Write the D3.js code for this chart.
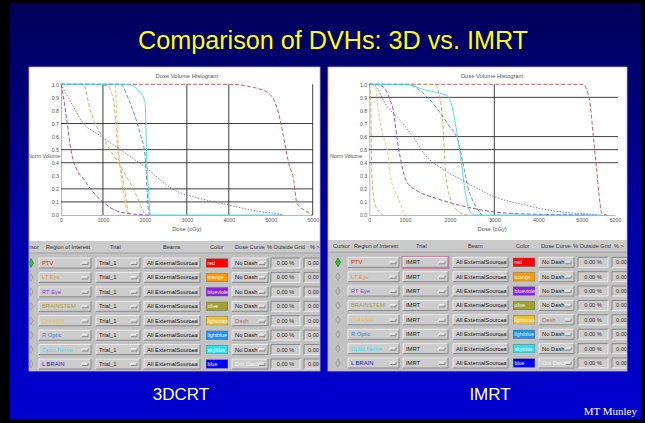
<!DOCTYPE html>
<html>
<head>
<meta charset="utf-8">
<script src="https://cdn.jsdelivr.net/npm/d3@7"></script>
<style>
  body { margin: 0; background: #000; }
  svg { display: block; }
</style>
</head>
<body>
<svg id="slide" width="645" height="423"></svg>
<script>
var svg = d3.select("#slide");
var width = +svg.attr("width");
var height = +svg.attr("height");

// axis ticks
var doseTicks = [0, 1000, 2000, 3000, 4000, 5000, 6000];
var volTicks = [0, 0.1, 0.2, 0.3, 0.4, 0.5, 0.6, 0.7, 0.8, 0.9, 1.0];

// reference lines drawn on each plot
var doseLines3d = [1000, 3000, 4000, 6000];
var volLines3d = [0.7, 0.5, 0.4, 0.2, 0.1];
var doseLinesImrt = [3000];
var volLinesImrt = [0.9, 0.6, 0.5, 0.4];

// table contents
var roiNames = ["PTV", "LT Eye", "RT Eye", "BRAINSTEM", "CHIASM", "R Optic", "Optic Nerve", "L BRAIN"];
var colorNames = ["red", "orange", "blueviolet", "olive", "lightorange", "lightblue", "skyblue", "blue"];
var doseCurve3d = ["No Dash", "No Dash", "No Dash", "No Dash", "Dash", "No Dash", "No Dash", "Dot Dash"];
var doseCurveImrt = ["No Dash", "No Dash", "No Dash", "No Dash", "Dash", "No Dash", "No Dash", "Dot Dash"];
var outsideGrid3d = ["0.00 %", "0.00 %", "0.00 %", "0.00 %", "0.00 %", "0.00 %", "0.00 %", "0.00 %"];
var outsideGridImrt = ["0.00 %", "0.00 %", "0.00 %", "0.00 %", "0.00 %", "0.00 %", "0.00 %", "0.00 %"];
var lastCol = ["0.00", "0.00", "0.00", "0.00", "0.00", "0.00", "0.00", "0.00"];
var headers3d = ["Cursor", "Region of Interest", "Trial", "Beams", "Color", "Dose Curve", "% Outside Grid", "% > Vol"];
var headersImrt = ["Cursor", "Region of Interest", "Trial", "Beam", "Color", "Dose Curve", "% Outside Grid", "% >"];
var trial3d = "Trial_1";
var trialImrt = "IMRT";
var beams3d = "All ExternalSources";
var beamsImrt = "All ExternalSources";

// 3DCRT DVHs [dose cGy, fractional volume]
var ptv3d = [[0, 1], [4000, 1], [4670, 0.97], [4990, 0.92], [5185, 0.78], [5305, 0.6], [5425, 0.4], [5545, 0.27], [5625, 0.09], [5865, 0.025], [5980, 0]];
var ltEye3d = [[0, 1], [650, 1], [1100, 0.99], [1250, 0.88], [1370, 0.45], [1490, 0.25], [1570, 0.08], [1610, 0.01], [1650, 0]];
var rtEye3d = [[0, 1], [60, 0.9], [135, 0.73], [253, 0.47], [373, 0.35], [530, 0.28], [750, 0.18], [1000, 0.1], [1330, 0.03], [1650, 0.01], [2100, 0]];
var brainstem3d = [[0, 1], [530, 1], [700, 0.8], [1090, 0.54], [1367, 0.4], [1800, 0.15], [2000, 0.01], [2050, 0]];
var chiasm3d = [[0, 1], [1290, 1], [1330, 0.75], [1410, 0.37], [1500, 0.15], [1600, 0.01], [1650, 0]];
var rOptic3d = [[0, 1], [1408, 1], [1647, 0.855], [1885, 0.625], [2005, 0.45], [2084, 0.04], [2110, 0]];
var opticNerve3d = [[0, 1], [1570, 1], [1885, 0.94], [2005, 0.86], [2045, 0.4], [2085, 0.2], [2124, 0.01], [2140, 0], [5300, 0]];
var lBrain3d = [[0, 1], [294, 0.83], [532, 0.7], [850, 0.625], [1327, 0.52], [1725, 0.43], [2040, 0.36], [2360, 0.27], [2840, 0.17], [3150, 0.14], [3950, 0.08], [4750, 0.025], [5150, 0.01], [5300, 0]];

// IMRT DVHs
var ptvImrt = [[0, 1], [5048, 1], [5150, 0.957], [5250, 0.855], [5350, 0.6], [5450, 0.344], [5550, 0.09], [5600, 0.013], [5750, 0]];
var ltEyeImrt = [[0, 1], [37, 0.89], [65, 0.38], [112, 0.15], [206, 0.05], [393, 0]];
var rtEyeImrt = [[0, 1], [160, 1], [392, 0.98], [580, 0.88], [672, 0.8], [768, 0.6], [860, 0.45], [1037, 0.255], [1296, 0.18], [1667, 0.13], [2190, 0.077], [2940, 0.026], [3690, 0.008], [5200, 0]];
var brainstemImrt = [[0, 1], [1667, 1], [1778, 0.89], [1852, 0.64], [1889, 0.38], [1963, 0.18], [2190, 0.026], [2410, 0]];
var chiasmImrt = [[0, 1], [160, 1], [252, 0.8], [392, 0.6], [532, 0.45], [580, 0.31], [812, 0.13], [1000, 0.005], [1030, 0]];
var rOpticImrt = [[0, 1], [1074, 0.995], [1444, 0.92], [1815, 0.765], [1963, 0.69], [2190, 0.56], [2302, 0.38], [2415, 0.2], [2566, 0.077], [2717, 0]];
var opticNerveImrt = [[0, 1], [1000, 1], [1444, 0.957], [1963, 0.906], [2038, 0.84], [2151, 0.64], [2264, 0.38], [2340, 0.18], [2453, 0.026], [2566, 0], [5600, 0]];
var lBrainImrt = [[0, 1], [160, 0.99], [440, 0.855], [1000, 0.68], [1222, 0.575], [1444, 0.46], [1815, 0.357], [2340, 0.255], [3000, 0.14], [3690, 0.077], [4460, 0.026], [5300, 0.005], [5500, 0]];

var curves3d = [ptv3d, ltEye3d, rtEye3d, brainstem3d, chiasm3d, rOptic3d, opticNerve3d, lBrain3d];
var curvesImrt = [ptvImrt, ltEyeImrt, rtEyeImrt, brainstemImrt, chiasmImrt, rOpticImrt, opticNerveImrt, lBrainImrt];

// styles, same order as roiNames
var lineColors = ["#c84848", "#e0a050", "#8a3cd0", "#b8ae58", "#e8c060", "#5880b8", "#40d8e8", "#7070b8"];
var lineDash = ["4,2", "4,2", "4,2", "4,2", "3,2", "4,2", null, "1.5,1.5"];
var roiTextColors = ["#e02020", "#e0a040", "#9040e0", "#a8a040", "#e8c050", "#3080e0", "#40e0f0", "#2020c0"];
var swatchColors = ["#ff0000", "#ff9900", "#8a20e0", "#a0a030", "#f0c030", "#2090f0", "#30e0f0", "#0000ff"];
var doseCurveColors = ["#202020", "#202020", "#202020", "#202020", "#b07070", "#202020", "#202020", "#f0f0f0"];

// slide background
var defs = svg.append("defs");
var grad = defs.append("linearGradient").attr("id", "bg").attr("x1", 0).attr("y1", 0).attr("x2", 0).attr("y2", 1);
grad.append("stop").attr("offset", "0%").attr("stop-color", "#000058");
grad.append("stop").attr("offset", "55%").attr("stop-color", "#0000a8");
grad.append("stop").attr("offset", "100%").attr("stop-color", "#0000d0");

svg.append("rect").attr("width", width).attr("height", height).attr("fill", "#000");
svg.append("rect").attr("x", 10).attr("y", 3).attr("width", 631).attr("height", 416).attr("fill", "url(#bg)");

svg.append("text")
  .attr("x", 138).attr("y", 49)
  .attr("textLength", 390).attr("lengthAdjust", "spacingAndGlyphs")
  .attr("font-family", "Liberation Sans, Arial, sans-serif")
  .attr("font-size", 25)
  .attr("fill", "#ffff00")
  .text("Comparison of DVHs: 3D vs. IMRT");

function bevel(g, x0, y0, x1, y1, raised) {
  var light = raised ? "#f4f4f4" : "#7a7a7a";
  var dark = raised ? "#7a7a7a" : "#f4f4f4";
  g.append("path").attr("d", "M" + x0 + "," + y1 + "V" + y0 + "H" + x1).attr("fill", "none").attr("stroke", light).attr("stroke-width", 0.8);
  g.append("path").attr("d", "M" + x1 + "," + y0 + "V" + y1 + "H" + x0).attr("fill", "none").attr("stroke", dark).attr("stroke-width", 0.8);
}

function dropdown(g, x0, x1, cy, text, color) {
  g.append("rect").attr("x", x0).attr("y", cy - 5).attr("width", x1 - x0).attr("height", 10).attr("fill", "#cdcdcd");
  bevel(g, x0, cy - 5, x1, cy + 5, true);
  g.append("rect").attr("x", x1 - 9).attr("y", cy - 1).attr("width", 6).attr("height", 2).attr("fill", "#d8d8d8");
  bevel(g, x1 - 9, cy - 1, x1 - 3, cy + 1.5, true);
  g.append("text").attr("x", x0 + 3).attr("y", cy + 2)
    .attr("font-size", 5.8).attr("fill", color).text(text);
}

function drawPanel(p) {
  var g = svg.append("g").attr("font-family", "Liberation Sans, Arial, sans-serif");
  var clipId = "clip" + p.id;
  defs.append("clipPath").attr("id", clipId).append("rect")
    .attr("x", p.left).attr("y", p.top).attr("width", p.right - p.left).attr("height", p.bottom - p.top);
  var inner = g.append("g").attr("clip-path", "url(#" + clipId + ")");

  inner.append("rect").attr("x", p.left).attr("y", p.top).attr("width", p.right - p.left).attr("height", p.tableTop - p.top).attr("fill", "#ffffff");
  inner.append("rect").attr("x", p.left).attr("y", p.tableTop).attr("width", p.right - p.left).attr("height", p.bottom - p.tableTop).attr("fill", "#c2c2c2");
  inner.append("rect").attr("x", p.left).attr("y", p.tableTop).attr("width", p.right - p.left).attr("height", 12).attr("fill", "#cbcbcb");
  inner.append("line").attr("x1", p.left).attr("x2", p.right).attr("y1", p.tableTop + 12).attr("y2", p.tableTop + 12).attr("stroke", "#9a9a9a").attr("stroke-width", 0.8);

  var x = p.x, y = p.y;

  // axes
  var xAxis = d3.axisBottom(x).tickValues(doseTicks).tickSize(0).tickPadding(3).tickFormat(d3.format("d"));
  var xg = inner.append("g").attr("transform", "translate(0," + y(0) + ")").call(xAxis);
  var yAxis = d3.axisLeft(y).tickValues(volTicks).tickSize(0).tickPadding(2).tickFormat(d3.format(".1f"));
  var yg = inner.append("g").attr("transform", "translate(" + x(0) + ",0)").call(yAxis);
  [xg, yg].forEach(function (a) {
    a.attr("font-family", null).attr("font-size", null);
    a.select(".domain").attr("stroke", "#9a9a9a").attr("stroke-width", 0.7);
    a.selectAll("text").attr("font-size", 5.3).attr("fill", "#555");
  });

  // reference lines
  inner.selectAll(".vline").data(p.doseLines).enter().append("line")
    .attr("x1", function (d) { return x(d); }).attr("x2", function (d) { return x(d); })
    .attr("y1", y(1)).attr("y2", y(0))
    .attr("stroke", "#2a2a2a").attr("stroke-width", 0.9);
  inner.selectAll(".hline").data(p.volLines).enter().append("line")
    .attr("x1", x(0)).attr("x2", p.hEnd)
    .attr("y1", function (d) { return y(d); }).attr("y2", function (d) { return y(d); })
    .attr("stroke", "#2a2a2a").attr("stroke-width", 0.9);

  // DVH curves
  var line = d3.line()
    .x(function (d) { return x(d[0]); })
    .y(function (d) { return y(d[1]); })
    .curve(d3.curveMonotoneX);
  inner.selectAll(".dvh").data(p.curves).enter().append("path")
    .attr("d", line)
    .attr("fill", "none")
    .attr("stroke", function (d, i) { return lineColors[i]; })
    .attr("stroke-dasharray", function (d, i) { return lineDash[i]; })
    .attr("stroke-width", 0.9);

  // plot texts
  var mid = (x(0) + x(6000)) / 2;
  inner.append("text").attr("x", mid).attr("y", 78).attr("text-anchor", "middle")
    .attr("font-size", 5.8).attr("fill", "#555").text("Dose Volume Histogram");
  inner.append("text").attr("x", mid).attr("y", 231).attr("text-anchor", "middle")
    .attr("font-size", 5.8).attr("fill", "#555").text("Dose (cGy)");
  inner.append("text").attr("x", p.yLabelX).attr("y", 158)
    .attr("font-size", 5.3).attr("fill", "#555").text("Norm Volume");

  // table header
  inner.selectAll(".hdr").data(p.headers).enter().append("text")
    .attr("x", function (d, i) { return p.headerX[i]; })
    .attr("y", p.tableTop + 8)
    .attr("font-size", 5.6).attr("fill", "#333")
    .text(function (d) { return d; });

  var rowY = d3.scalePoint().domain(roiNames).range(p.rowRange);
  var c = p.cols;
  roiNames.forEach(function (name, i) {
    var cy = rowY(name);
    var row = inner.append("g");
    row.append("path")
      .attr("d", d3.symbol().type(d3.symbolDiamond).size(i === 0 ? 22 : 16))
      .attr("transform", "translate(" + c.cursor + "," + cy + ")")
      .attr("fill", i === 0 ? "#30c030" : "#bcbcbc")
      .attr("stroke", i === 0 ? "#107010" : "#8a8a8a").attr("stroke-width", 0.6);
    dropdown(row, c.roi[0], c.roi[1], cy, name, roiTextColors[i]);
    dropdown(row, c.trial[0], c.trial[1], cy, p.trial, "#202020");
    if (i === 0 && p.id === "imrt") {
      row.append("rect").attr("x", c.trial[0] - 1).attr("y", cy - 6).attr("width", c.trial[1] - c.trial[0] + 2).attr("height", 12)
        .attr("fill", "none").attr("stroke", "#c07090").attr("stroke-width", 0.8);
    }
    dropdown(row, c.beams[0], c.beams[1], cy, p.beams, "#202020");
    var sw = row.append("svg").attr("x", c.swatch[0]).attr("y", cy - 4.5)
      .attr("width", c.swatch[1] - c.swatch[0]).attr("height", 9);
    sw.append("rect").attr("width", c.swatch[1] - c.swatch[0]).attr("height", 9)
      .attr("fill", swatchColors[i]).attr("stroke", "#707070").attr("stroke-width", 0.8);
    sw.append("text").attr("x", 1.5).attr("y", 6.5)
      .attr("font-size", 5.2).attr("fill", "#f4f4f4").text(colorNames[i]);
    dropdown(row, c.dose[0], c.dose[1], cy, p.doseCurve[i], doseCurveColors[i]);
    row.append("rect").attr("x", c.pct[0]).attr("y", cy - 5).attr("width", c.pct[1] - c.pct[0]).attr("height", 10).attr("fill", "#cdcdcd");
    bevel(row, c.pct[0], cy - 5, c.pct[1], cy + 5, false);
    row.append("text").attr("x", (c.pct[0] + c.pct[1]) / 2).attr("y", cy + 2).attr("text-anchor", "middle")
      .attr("font-size", 5.6).attr("fill", "#303030").text(p.outside[i]);
    row.append("rect").attr("x", c.last[0]).attr("y", cy - 5).attr("width", c.last[1] - c.last[0]).attr("height", 10).attr("fill", "#cdcdcd");
    bevel(row, c.last[0], cy - 5, c.last[1], cy + 5, false);
    row.append("text").attr("x", c.last[0] + 4).attr("y", cy + 2)
      .attr("font-size", 5.6).attr("fill", "#303030").text(lastCol[i]);
  });

  g.append("rect").attr("x", p.left).attr("y", p.top).attr("width", p.right - p.left).attr("height", p.bottom - p.top)
    .attr("fill", "none").attr("stroke", "#c8a8d0").attr("stroke-width", 0.8);
}

var volScale = d3.scaleLinear().domain([0, 1]).range([215, 84.3]);

drawPanel({
  id: "3d", left: 29, right: 320, top: 67, tableTop: 241, bottom: 371,
  x: d3.scaleLinear().domain([0, 6000]).range([61, 312.7]),
  y: volScale, hEnd: 312.7, yLabelX: 28,
  doseLines: doseLines3d, volLines: volLines3d, curves: curves3d,
  headers: headers3d, headerX: [22, 46, 110, 163, 210, 235, 267, 310],
  rowRange: [263, 364],
  cols: { cursor: 31, roi: [39, 91], trial: [96, 140], beams: [144, 200], swatch: [206, 228], dose: [232, 268], pct: [271, 300], last: [304, 330] },
  trial: trial3d, beams: beams3d, doseCurve: doseCurve3d, outside: outsideGrid3d
});

drawPanel({
  id: "imrt", left: 328, right: 627, top: 67, tableTop: 240, bottom: 371,
  x: d3.scaleLinear().domain(doseTicks).range([369.3, 405, 450, 494.3, 538.3, 581.7, 615]),
  y: volScale, hEnd: 618, yLabelX: 330,
  doseLines: doseLinesImrt, volLines: volLinesImrt, curves: curvesImrt,
  headers: headersImrt, headerX: [333, 354, 416, 468, 516, 541, 573, 614],
  rowRange: [262.3, 363],
  cols: { cursor: 338, roi: [348, 399], trial: [403, 448], beams: [453, 508], swatch: [513, 535], dose: [539, 574], pct: [578, 608], last: [612, 635] },
  trial: trialImrt, beams: beamsImrt, doseCurve: doseCurveImrt, outside: outsideGridImrt
});

// captions
svg.append("text").attr("x", 181).attr("y", 400).attr("text-anchor", "middle")
  .attr("font-family", "Liberation Sans, Arial, sans-serif").attr("font-size", 17).attr("fill", "#ffffff").text("3DCRT");
svg.append("text").attr("x", 490).attr("y", 400).attr("text-anchor", "middle")
  .attr("font-family", "Liberation Sans, Arial, sans-serif").attr("font-size", 17).attr("fill", "#ffffff").text("IMRT");
svg.append("text").attr("x", 637).attr("y", 415).attr("text-anchor", "end")
  .attr("font-family", "Liberation Serif, Times New Roman, serif").attr("font-size", 11).attr("fill", "#ffffff").text("MT Munley");
</script>
</body>
</html>
